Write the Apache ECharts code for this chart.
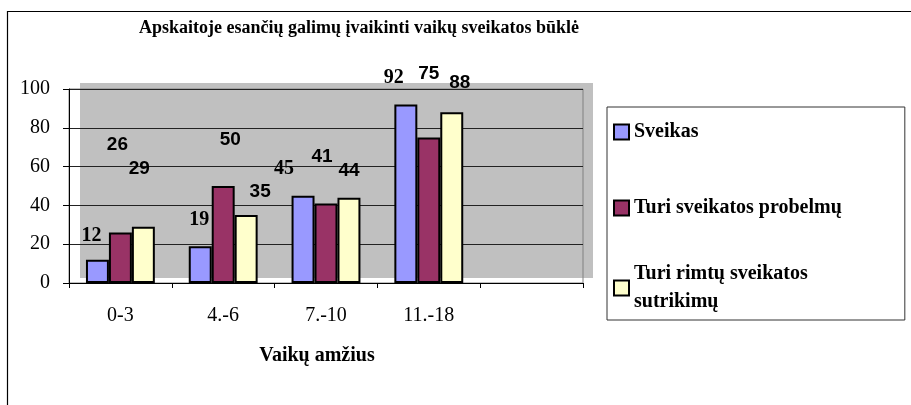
<!DOCTYPE html>
<html>
<head>
<meta charset="utf-8">
<title>Apskaitoje esančių galimų įvaikinti vaikų sveikatos būklė</title>
<script src="https://cdn.jsdelivr.net/npm/echarts@6/dist/echarts.min.js"></script>
<style>
    html, body {margin: 0; padding: 0; background: #fff;}
    #health-chart {width: 911px; height: 405px;}
</style>
</head>
<body>
<div id="health-chart"></div>
<script>
var AGE_GROUPS = ['0-3', '4.-6', '7.-10', '11.-18', ''];
var SERIES_NAMES = ['Sveikas', 'Turi sveikatos probelmų', 'Turi rimtų sveikatos sutrikimų'];
var HEALTHY = [12, 19, 45, 92];
var PROBLEMS = [26, 50, 41, 75];
var SERIOUS = [29, 35, 44, 88];
var Y_TICKS = [0, 20, 40, 60, 80, 100];

// label nudges [dx, dy], the excel export scattered them a bit
var HEALTHY_LABEL_SHIFT = [[-6, -14], [-1, -16], [-19, -17], [-12, -17]];
var PROBLEMS_LABEL_SHIFT = [[-3, -78], [7, -37], [-4, -37], [0, -54]];
var SERIOUS_LABEL_SHIFT = [[-4, -48], [14, -14], [0, -17], [8, -20]];

var SERIF = 'Liberation Serif';
var SANS = 'Liberation Sans';

var HEALTH_CHART = {
    CHART_ID: 'health-chart',
    COLORS: ['#9999ff', '#993366', '#ffffcc'],
    // legend rows are not evenly spaced in the original
    LEGEND_LINE: [48, 30, 28],
    chart: null,
    ini: function () {
        this.chart = echarts.init(document.getElementById(this.CHART_ID), null, {renderer: 'canvas'});
        this.chart.setOption(this.getOption());
    },
    toItems: function (values, shifts, font) {
        var items = [];
        for (var i = 0; i < values.length; i++) {
            items.push({value: values[i], label: {offset: shifts[i], fontFamily: font}});
        }
        return items;
    },
    toLegend: function () {
        var items = [];
        for (var i = 0; i < SERIES_NAMES.length; i++) {
            items.push({name: SERIES_NAMES[i], textStyle: {lineHeight: this.LEGEND_LINE[i]}});
        }
        return items;
    },
    toSeries: function (index, values, shifts, font) {
        return {
            name: SERIES_NAMES[index],
            type: 'bar',
            barGap: '0%',
            barCategoryGap: '33%',
            itemStyle: {
                color: this.COLORS[index],
                borderColor: '#000',
                borderWidth: 2
            },
            label: {
                show: true,
                position: 'top',
                distance: 0,
                color: '#000',
                fontFamily: font,
                fontWeight: 'bold',
                fontSize: index == 0 ? 20 : 19
            },
            emphasis: {disabled: true},
            data: this.toItems(values, shifts, font)
        };
    },
    getOption: function () {
        return {
            animation: false,
            title: {
                text: 'Apskaitoje esančių galimų įvaikinti vaikų sveikatos būklė',
                left: 354,
                top: 14,
                textAlign: 'center',
                textStyle: {
                    fontFamily: SERIF,
                    fontWeight: 'bold',
                    fontSize: 18,
                    color: '#000'
                }
            },
            graphic: [
                {
                    type: 'rect',
                    z: -1,
                    shape: {x: 80, y: 83, width: 513, height: 195},
                    style: {fill: '#c0c0c0'}
                },
                {
                    type: 'polyline',
                    z: -1,
                    shape: {points: [[7.5, 405], [7.5, 11.5], [911, 11.5]]},
                    style: {stroke: '#000', lineWidth: 1.2, fill: null}
                }
            ],
            legend: {
                orient: 'vertical',
                left: 607,
                top: 107,
                padding: [1, 63, 4, 6],
                itemGap: 37,
                itemWidth: 15,
                itemHeight: 15,
                borderColor: '#333',
                borderWidth: 1,
                borderRadius: 0,
                selectedMode: false,
                icon: 'rect',
                formatter: function (name) {
                    return name == SERIES_NAMES[2] ? 'Turi rimtų sveikatos\nsutrikimų' : name;
                },
                textStyle: {
                    fontFamily: SERIF,
                    fontWeight: 'bold',
                    fontSize: 20,
                    lineHeight: 30,
                    color: '#000'
                },
                data: this.toLegend()
            },
            grid: {
                left: 69,
                top: 89,
                right: 328,
                bottom: 122,
                show: true,
                borderColor: '#808080',
                borderWidth: 1,
                backgroundColor: 'transparent',
                containLabel: false
            },
            xAxis: {
                type: 'category',
                data: AGE_GROUPS,
                name: 'Vaikų amžius',
                nameLocation: 'middle',
                nameGap: 63,
                nameTextStyle: {
                    fontFamily: SERIF,
                    fontWeight: 'bold',
                    fontSize: 20,
                    color: '#000',
                    padding: [0, 18, 0, 0]
                },
                axisLine: {lineStyle: {color: '#000', width: 1}},
                axisTick: {show: true, length: 5, lineStyle: {color: '#000'}},
                axisLabel: {
                    margin: 23,
                    fontFamily: SERIF,
                    fontSize: 20,
                    color: '#000',
                    interval: 0
                },
                splitLine: {show: false}
            },
            yAxis: {
                type: 'value',
                min: Y_TICKS[0],
                max: Y_TICKS[Y_TICKS.length - 1],
                interval: 20,
                axisLine: {show: true, lineStyle: {color: '#000', width: 1}},
                axisTick: {show: true, length: 6, lineStyle: {color: '#000'}},
                axisLabel: {
                    margin: 19,
                    fontFamily: SERIF,
                    fontSize: 20,
                    color: '#000'
                },
                splitLine: {show: true, lineStyle: {color: '#222', width: 1}}
            },
            series: [
                this.toSeries(0, HEALTHY, HEALTHY_LABEL_SHIFT, SERIF),
                this.toSeries(1, PROBLEMS, PROBLEMS_LABEL_SHIFT, SANS),
                this.toSeries(2, SERIOUS, SERIOUS_LABEL_SHIFT, SANS)
            ]
        };
    }
};

HEALTH_CHART.ini();
</script>
</body>
</html>
